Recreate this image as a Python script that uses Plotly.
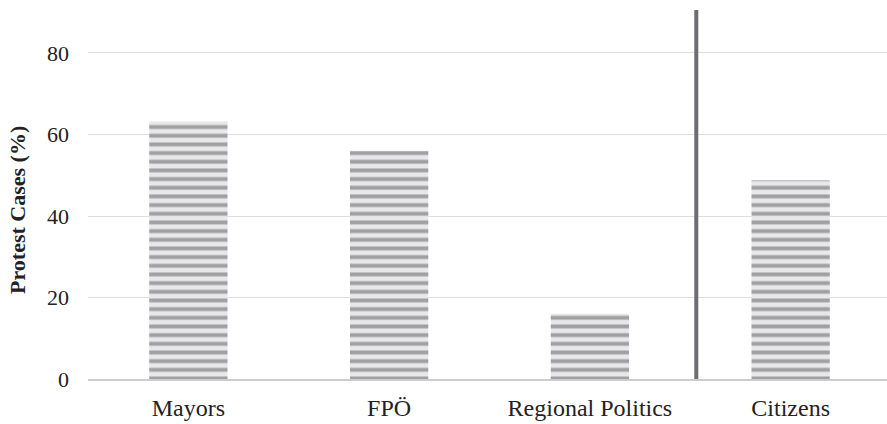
import plotly.graph_objects as go

categories = ["Mayors", "FPÖ", "Regional Politics", "Citizens"]
values = [63.2, 56.0, 16.0, 48.8]
y_ticks = [0, 20, 40, 60, 80]
y_title = "Protest Cases (%)"
divider_x = 2.53

fig = go.Figure()
fig.add_trace(go.Bar(
    x=list(range(len(categories))),
    y=values,
    width=0.39,
    marker=dict(
        color="#e8e8ea",
        line=dict(width=0),
        pattern=dict(shape="-", size=8.67, solidity=0.45,
                     fgcolor="#a0a0a3", bgcolor="#e8e8ea", fgopacity=1),
    ),
    hoverinfo="skip",
))

fig.add_shape(type="line", xref="x", yref="paper", x0=divider_x, x1=divider_x,
              y0=0, y1=1, line=dict(color="#6e6e72", width=4))

font = "Liberation Serif, Times New Roman, serif"

fig.add_annotation(text="<b>" + y_title + "</b>", textangle=-90,
                   xref="paper", yref="paper", x=-0.0876, y=0.458,
                   xanchor="center", yanchor="middle", showarrow=False,
                   font=dict(family=font, size=22, color="#222222"))

fig.update_layout(
    width=887, height=424,
    margin=dict(l=88, r=0, t=10, b=45),
    paper_bgcolor="white", plot_bgcolor="white",
    showlegend=False,
    font=dict(family=font, color="#222222", size=23),
    xaxis=dict(
        range=[-0.5, 3.48],
        automargin=False,
        tickmode="array",
        tickvals=list(range(len(categories))),
        ticktext=categories,
        showgrid=False,
        showline=True, linecolor="#cccccc", linewidth=2,
        ticks="", zeroline=False,
        tickfont=dict(family=font, size=24, color="#222222"),
        ticklabelstandoff=6,
    ),
    yaxis=dict(
        range=[0, 90.55],
        automargin=False,
        tickmode="array",
        tickvals=y_ticks,
        showgrid=True, gridcolor="#dedede", gridwidth=1,
        zeroline=False, showline=False, ticks="",
        tickfont=dict(family=font, size=22, color="#222222"),
        ticklabelstandoff=18,
    ),
)

fig.write_html("out.html", config={"displayModeBar": False},
               post_script="document.body.style.margin='0';document.body.style.overflow='hidden';")
